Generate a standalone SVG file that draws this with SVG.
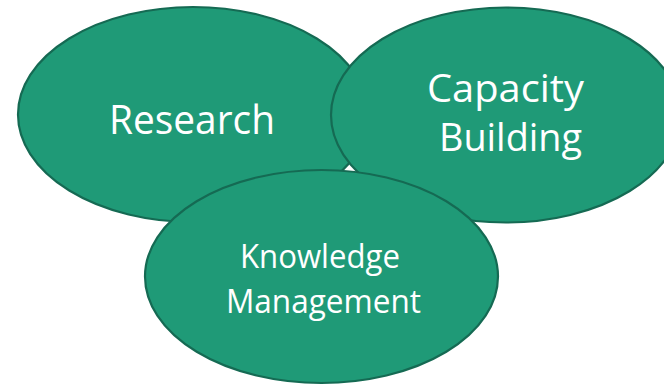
<svg xmlns="http://www.w3.org/2000/svg" width="664" height="385" viewBox="0 0 664 385">
<style>
.n{fill:#1f9a77;stroke:#156a53;stroke-width:2.2}
.t{fill:#ffffff;font-family:"Open Sans","Noto Sans","Liberation Sans",sans-serif}
.big{font-size:41px}
.cb{font-size:39px}
.small{font-size:33px}
</style>
<rect width="664" height="385" fill="#ffffff"/>
<g id="connectors"></g>
<g id="research">
<ellipse class="n" cx="193" cy="114.5" rx="175" ry="107.5"/>
<text class="t big" x="109" y="133.5" textLength="166" lengthAdjust="spacingAndGlyphs">Research</text>
</g>
<g id="capacity-building">
<ellipse class="n" cx="506" cy="115" rx="175" ry="107.5"/>
<text class="t cb" x="427" y="101.5" textLength="157" lengthAdjust="spacingAndGlyphs">Capacity</text>
<text class="t cb" x="439" y="151" textLength="143" lengthAdjust="spacingAndGlyphs">Building</text>
</g>
<g id="knowledge-management">
<ellipse class="n" cx="321.5" cy="276.5" rx="176.5" ry="106.5"/>
<text class="t small" x="240" y="268" textLength="160" lengthAdjust="spacingAndGlyphs">Knowledge</text>
<text class="t small" x="226" y="312.5" textLength="195" lengthAdjust="spacingAndGlyphs">Management</text>
</g>
</svg>
